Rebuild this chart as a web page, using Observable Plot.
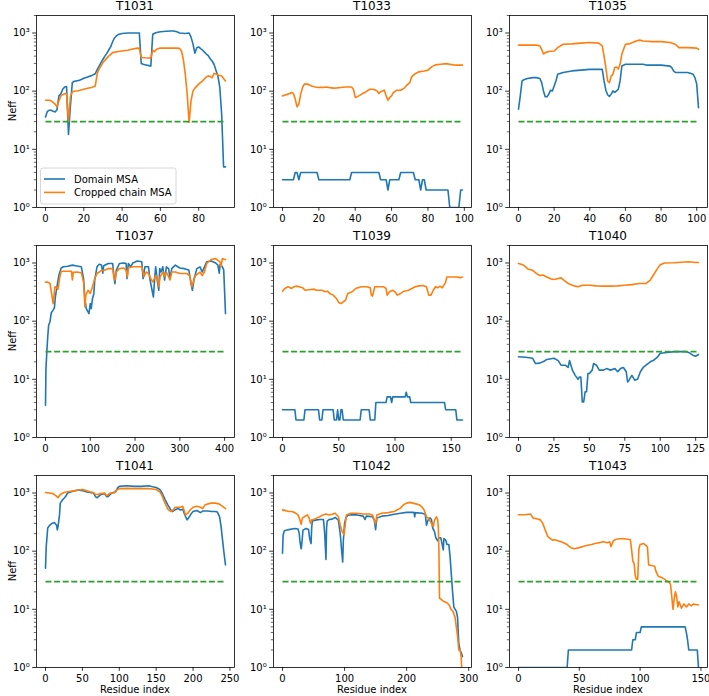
<!DOCTYPE html>
<html><head><meta charset="utf-8">
<script src="https://cdn.jsdelivr.net/npm/d3@7"></script>
<script src="https://cdn.jsdelivr.net/npm/@observablehq/plot@0.6"></script>
<style>
body{margin:0;background:#fff;}
#wrap{position:relative;width:709px;height:696px;overflow:hidden;font-family:"DejaVu Sans",sans-serif;background:#fff;}
#wrap svg{position:absolute;}
</style></head><body><div id="wrap"></div>
<script>
// ---------- data ----------
const panelTitles = ["T1031","T1033","T1035","T1037","T1039","T1040","T1041","T1042","T1043"];
const seriesNames = ["Domain MSA","Cropped chain MSA"];
const neffThreshold = 30;
const yDomain = [1, 2000];
const yTicks = [1, 10, 100, 1000];
const yTickLabels = ["10\u2070","10\u00b9","10\u00b2","10\u00b3"];
const xTickSets = [
  [0,20,40,60,80],[0,20,40,60,80,100],[0,20,40,60,80,100],
  [0,100,200,300,400],[0,50,100,150],[0,25,50,75,100,125],
  [0,50,100,150,200,250],[0,100,200,300],[0,50,100,150]
];

const t1031Domain = [[0,36],[1,45],[2,47],[3,47],[4,45],[5,44],[6,48],[7,83],[8,90],[9,108],[10,118],[11,120],[12,18],[13,55],[14,140],[15,148],[16,150],[17,152],[18,155],[19,160],[20,167],[22,176],[24,185],[26,200],[27,235],[28,270],[29,310],[30,354],[31,400],[32,445],[33,510],[34,575],[35,700],[36,820],[37,890],[38,940],[40,980],[43,1000],[45,1000],[49,1000],[50,300],[51,290],[52,285],[53,280],[54,275],[55,270],[56,950],[57,990],[58,1020],[60,1050],[63,1070],[65,1080],[67,1080],[69,1040],[70,1000],[73,980],[74,990],[75,1000],[76,850],[77,650],[78,450],[79,560],[80,575],[81,540],[82,510],[83,470],[84,435],[85,410],[86,360],[87,330],[88,290],[89,230],[90,183],[91,118],[92,40],[93,5],[94,5]];
const t1031Cropped = [[0,70],[1,70],[2,70],[3,68],[4,64],[5,60],[6,54],[7,68],[8,83],[9,87],[10,90],[11,91],[12,30],[13,80],[14,98],[15,100],[17,102],[19,106],[20,108],[22,112],[24,116],[26,123],[27,200],[28,240],[30,310],[32,370],[33,400],[35,460],[38,480],[40,490],[43,505],[45,525],[48,550],[49,545],[50,380],[52,375],[55,370],[56,510],[57,480],[58,525],[60,550],[63,550],[65,550],[68,550],[70,545],[71,490],[72,350],[73,196],[74,88],[75,29],[76,68],[77,100],[78,113],[79,122],[80,132],[82,150],[84,176],[85,183],[86,180],[87,170],[88,202],[89,198],[90,190],[92,183],[93,165],[94,150]];

const t1033Domain = [[0,3],[6,3],[7,4],[8,4],[9,3],[10,4],[19,4],[20,3],[37,3],[38,4],[53,4],[54,3],[57,3],[58,2],[59,3],[64,3],[65,4],[72,4],[73,3],[75,3],[76,2],[77,3],[78,3],[79,2],[91,2],[92,1],[97,1],[98,2],[99,2]];
const t1033Cropped = [[0,83],[1,85],[2,87],[3,89],[4,91],[5,95],[6,91],[7,73],[8,54],[9,60],[10,89],[11,115],[12,132],[13,133],[14,132],[16,123],[18,118],[20,116],[22,116],[24,118],[26,115],[28,113],[30,114],[32,116],[35,118],[38,118],[39,108],[40,78],[41,80],[42,83],[44,91],[46,98],[48,108],[50,108],[52,101],[53,91],[54,98],[56,104],[57,83],[58,70],[59,78],[60,83],[61,95],[63,104],[65,104],[67,113],[68,123],[70,140],[71,176],[73,200],[75,215],[78,223],[80,230],[82,262],[84,283],[87,290],[90,298],[92,290],[94,283],[96,280],[99,280]];

const t1035Domain = [[0,49],[1,83],[2,150],[3,157],[5,165],[8,171],[10,171],[12,165],[13,140],[14,101],[15,80],[16,80],[17,89],[18,104],[19,101],[20,123],[21,150],[22,195],[25,210],[30,223],[35,230],[40,237],[45,237],[47,237],[48,150],[49,104],[50,87],[51,81],[52,89],[53,101],[54,95],[55,101],[56,108],[57,150],[58,270],[60,290],[65,290],[70,290],[72,280],[80,280],[85,270],[86,255],[87,223],[88,210],[90,210],[95,210],[98,195],[99,171],[100,132],[101,52]];
const t1035Cropped = [[0,620],[5,620],[10,620],[12,600],[13,525],[14,435],[15,460],[17,480],[20,490],[22,560],[25,640],[30,650],[35,670],[40,685],[45,670],[47,600],[48,400],[49,255],[50,150],[51,140],[52,183],[53,195],[54,255],[55,260],[56,240],[57,290],[58,435],[60,640],[62,650],[64,685],[66,730],[68,755],[70,730],[75,710],[80,710],[85,685],[88,640],[90,560],[92,560],[95,560],[100,550],[101,525]];

const t1037Domain = [[0,3.6],[1,15],[3,30],[5,54],[7,85],[10,98],[13,140],[17,155],[20,170],[22,260],[25,365],[30,620],[35,820],[40,860],[50,880],[60,920],[70,890],[80,860],[85,540],[88,245],[91,165],[95,145],[97,135],[100,200],[102,165],[105,245],[108,300],[110,510],[115,860],[120,950],[125,920],[128,670],[130,900],[140,980],[150,980],[153,580],[155,440],[158,745],[165,980],[175,1000],[180,980],[182,540],[185,980],[190,860],[195,1000],[205,1080],[215,1050],[218,540],[222,860],[230,860],[233,540],[238,340],[241,260],[243,440],[246,860],[250,480],[253,340],[255,800],[258,700],[262,860],[266,510],[270,860],[275,800],[278,540],[282,800],[290,920],[300,820],[310,800],[320,760],[325,440],[328,340],[332,540],[338,800],[345,860],[350,700],[355,860],[360,1050],[370,1080],[380,1000],[385,920],[388,670],[390,950],[395,860],[398,760],[400,320],[402,135]];
const t1037Cropped = [[0,470],[5,470],[10,445],[13,320],[17,200],[19,280],[21,390],[25,375],[28,355],[32,575],[35,720],[40,720],[50,720],[58,720],[60,510],[62,690],[70,700],[80,680],[85,470],[88,175],[90,280],[95,340],[100,300],[105,390],[110,540],[115,660],[120,700],[125,745],[130,745],[140,800],[150,800],[153,540],[155,510],[158,700],[165,800],[175,820],[180,745],[183,580],[185,820],[195,860],[205,860],[215,860],[220,580],[225,700],[230,660],[235,540],[240,470],[243,540],[247,610],[250,540],[253,390],[256,580],[262,700],[266,580],[270,700],[278,510],[282,700],[290,700],[300,660],[315,660],[322,610],[327,390],[330,470],[335,610],[345,700],[350,610],[355,700],[360,980],[370,1150],[380,1190],[390,1040],[392,860],[395,1190],[400,1150],[402,1150]];

const t1039Domain = [[0,3],[11,3],[12,2],[19,2],[20,3],[32,3],[33,2],[35,2],[36,3],[45,3],[46,2],[48,2],[49,3],[50,2],[51,2],[52,3],[53,3],[54,2],[69,2],[70,3],[77,3],[78,2],[82,2],[83,4],[92,4],[93,5],[96,5],[97,4],[98,5],[109,5],[110,6],[111,5],[113,5],[114,4],[144,4],[145,3],[154,3],[155,2],[160,2]];
const t1039Cropped = [[0,328],[2,365],[5,390],[8,365],[10,390],[13,400],[18,375],[20,340],[25,350],[28,355],[30,340],[35,340],[38,320],[40,328],[42,300],[45,280],[48,245],[50,210],[52,200],[54,215],[56,230],[58,300],[62,320],[65,365],[70,390],[75,390],[78,375],[79,280],[80,270],[82,390],[85,390],[90,390],[92,365],[93,280],[95,320],[98,340],[100,320],[102,280],[105,300],[108,328],[112,340],[115,365],[118,390],[120,400],[125,410],[128,390],[130,280],[132,280],[134,340],[136,390],[138,375],[140,400],[142,375],[145,470],[146,575],[150,575],[155,575],[158,560],[160,575]];

const t1040Domain = [[0,24.4],[5,24],[10,23],[12,18.7],[15,19],[18,20.5],[20,22],[25,23],[28,21],[30,17.5],[33,17.5],[35,16],[36,21],[37,17.5],[38,14.4],[40,11.7],[42,10],[43,11],[44,11],[45,4.1],[46,4.1],[47,6.1],[48,6.1],[49,12.6],[50,12.6],[52,14.4],[53,18.7],[55,17.5],[57,14.4],[60,14.4],[62,15.3],[65,14.4],[68,15.3],[70,13.5],[72,15.3],[74,16],[76,13.5],[77,9],[78,9.7],[80,11.7],[82,9.7],[84,10],[86,13.5],[88,16],[90,17.5],[93,20],[95,21],[98,24],[100,28],[105,29],[110,30],[115,30],[118,30],[120,29],[123,26],[125,25],[127,26.7]];
const t1040Cropped = [[0,980],[3,935],[5,860],[7,780],[10,750],[13,650],[15,610],[17,620],[20,575],[23,530],[25,520],[28,540],[30,555],[32,510],[35,445],[38,415],[40,400],[42,390],[45,415],[50,415],[55,405],[60,400],[65,400],[70,405],[75,415],[80,425],[85,445],[90,445],[93,510],[95,610],[98,800],[100,935],[103,1000],[110,1010],[120,1050],[125,1020],[127,1020]];

const t1041Domain = [[0,51],[1,120],[3,250],[5,272],[8,295],[12,310],[15,280],[16,232],[17,265],[19,420],[20,670],[23,760],[27,860],[30,1000],[35,1050],[40,1090],[45,1130],[50,1100],[55,1050],[60,1020],[65,1000],[68,860],[70,830],[75,940],[80,975],[83,860],[85,870],[90,1000],[95,1050],[98,1240],[100,1300],[110,1330],[120,1300],[130,1300],[140,1330],[145,1280],[150,1240],[155,1150],[158,1000],[162,780],[166,620],[170,510],[172,480],[175,510],[180,540],[183,510],[186,525],[188,450],[190,390],[192,345],[195,390],[198,450],[200,480],[205,500],[210,460],[213,490],[220,490],[225,480],[230,480],[233,470],[236,390],[238,265],[240,155],[242,92],[244,58]];
const t1041Cropped = [[0,1020],[5,1000],[10,975],[14,900],[17,830],[20,940],[25,1020],[30,1050],[40,1100],[45,1130],[50,1150],[55,1100],[60,1050],[65,1020],[68,940],[70,940],[75,975],[80,1000],[83,900],[88,1000],[93,1000],[95,1100],[98,1150],[100,1190],[110,1200],[120,1190],[130,1190],[140,1190],[145,1170],[150,1150],[155,1050],[158,900],[162,670],[166,525],[170,480],[173,510],[176,570],[180,570],[183,570],[186,590],[190,420],[193,450],[196,510],[200,570],[205,590],[210,570],[213,540],[216,620],[220,650],[225,670],[230,670],[235,650],[240,590],[244,540]];

const t1042Domain = [[0,92],[1,190],[3,225],[10,235],[20,245],[25,240],[27,200],[28,150],[30,110],[31,130],[33,230],[38,245],[42,235],[44,160],[46,135],[47,250],[48,330],[55,345],[60,350],[66,350],[68,200],[69,120],[70,72],[71,250],[72,330],[75,350],[80,355],[85,380],[90,340],[93,200],[95,110],[97,65],[98,150],[100,300],[102,370],[105,415],[110,420],[120,420],[130,400],[133,350],[135,400],[145,390],[148,340],[150,235],[152,370],[160,400],[170,410],[180,430],[190,450],[200,465],[210,465],[212,460],[213,390],[214,460],[225,450],[230,430],[232,280],[234,330],[236,370],[238,370],[240,350],[242,250],[245,215],[247,170],[250,150],[252,170],[255,170],[258,120],[259,105],[260,165],[263,155],[265,130],[268,130],[270,80],[272,40],[274,20],[276,11],[278,10],[280,9.4],[282,7.3],[284,2.6],[286,2],[288,1.8],[290,1.55]];
const t1042Cropped = [[0,515],[1,500],[3,510],[5,495],[10,480],[15,480],[20,460],[25,420],[28,345],[30,290],[32,370],[35,390],[40,420],[43,370],[45,300],[47,345],[50,350],[55,370],[60,390],[65,420],[70,435],[75,420],[80,430],[85,450],[90,390],[93,280],[96,220],[99,190],[101,280],[103,420],[110,450],[120,450],[130,435],[140,435],[145,420],[148,340],[150,295],[152,420],[160,450],[170,460],[180,480],[190,550],[195,630],[200,670],[205,690],[210,670],[215,650],[220,630],[225,570],[228,515],[232,390],[235,370],[238,330],[240,300],[243,265],[245,345],[248,390],[250,345],[251,265],[252,105],[253,15.5],[255,15],[260,13.6],[265,13],[268,12],[270,11],[272,9.8],[274,9.5],[276,8.5],[278,7.3],[280,5],[282,3.5],[284,2],[286,2],[288,1.5],[289,0.8]];

const t1043Domain = [[0,1],[40,1],[41,2],[93,2],[94,3],[96,3],[97,4],[100,4],[101,5],[137,5],[138,4],[139,3],[140,2],[147,2],[148,1]];
const t1043Cropped = [[0,422],[5,422],[10,435],[12,370],[15,360],[18,345],[20,300],[22,230],[24,180],[26,165],[28,155],[30,157],[33,150],[35,145],[37,140],[40,130],[43,115],[46,110],[50,115],[53,120],[56,125],[60,130],[63,135],[66,140],[70,145],[73,140],[75,145],[76,120],[78,150],[80,160],[85,165],[90,160],[92,157],[93,105],[94,67],[95,62],[96,38],[97,33],[98,33],[99,110],[100,130],[103,135],[106,120],[107,58],[110,56],[112,55],[113,45],[115,37],[118,35],[120,33],[123,30],[125,27],[126,16.8],[127,10],[128,15],[129,20],[130,16.8],[131,11],[132,13.5],[134,10.5],[136,12.4],[138,11],[140,12.4],[142,11.5],[144,12.4],[146,12],[148,12]];

const domainSeries = [t1031Domain,t1033Domain,t1035Domain,t1037Domain,t1039Domain,t1040Domain,t1041Domain,t1042Domain,t1043Domain];
const croppedSeries = [t1031Cropped,t1033Cropped,t1035Cropped,t1037Cropped,t1039Cropped,t1040Cropped,t1041Cropped,t1042Cropped,t1043Cropped];

// ---------- layout / style ----------
const colors = {domain:"#1f77b4", cropped:"#ff7f0e", threshold:"#2ca02c"};
const colLeft = [36, 273, 509], rowTop = [15, 245, 475];
const FW = 198, FH = 192;
const ML = 36, MR = 2, MT = 2, MB = 22;
const minorTicks = yTicks.flatMap(d => d3.range(2, 10).map(k => k * d)).filter(v => v <= yDomain[1]);

const wrap = document.getElementById("wrap");

panelTitles.forEach((title, i) => {
  const r = Math.floor(i / 3), c = i % 3;
  const dom = domainSeries[i], crop = croppedSeries[i];
  const all = dom.concat(crop);
  const xmin = d3.min(all, d => d[0]), xmax = d3.max(all, d => d[0]);
  const pad = (xmax - xmin) * 0.05;
  const thr = [[xmin, neffThreshold], [xmax, neffThreshold]];
  const chart = Plot.plot({
    width: ML + FW + MR, height: MT + FH + MB,
    marginLeft: ML, marginRight: MR, marginTop: MT, marginBottom: MB,
    x: {domain: [xmin - pad, xmax + pad], label: null},
    y: {type: "log", domain: yDomain, label: null},
    style: {fontFamily: "DejaVu Sans", fontSize: "10px", color: "black", background: "transparent", overflow: "visible"},
    marks: [
      Plot.line(dom, {x: d => d[0], y: d => d[1], stroke: colors.domain, strokeWidth: 1.6, clip: true, strokeLinejoin: "round"}),
      Plot.line(crop, {x: d => d[0], y: d => d[1], stroke: colors.cropped, strokeWidth: 1.6, clip: true, strokeLinejoin: "round"}),
      Plot.line(thr, {x: d => d[0], y: d => d[1], stroke: colors.threshold, strokeWidth: 1.6, strokeDasharray: "6,2.6", strokeLinecap: "butt"}),
      Plot.frame({stroke: "black", strokeWidth: 0.8}),
      Plot.axisX(xTickSets[i], {tickSize: 3.8, tickPadding: 3.6, strokeWidth: 0.8, label: null, tickFormat: d => String(d)}),
      Plot.axisY(yTicks, {tickSize: 3.8, tickPadding: 3, strokeWidth: 0.8, label: null, tickFormat: d => yTickLabels[yTicks.indexOf(d)]}),
      Plot.axisY(minorTicks, {tickSize: 2.2, strokeWidth: 0.6, label: null, tickFormat: () => ""})
    ]
  });
  chart.style.left = (colLeft[c] - ML) + "px";
  chart.style.top = (rowTop[r] - MT) + "px";
  wrap.appendChild(chart);
});

// overlay: titles, axis labels, legend
const ov = d3.select(wrap).append("svg").attr("width", 709).attr("height", 696)
  .style("left", "0px").style("top", "0px").style("pointer-events", "none")
  .attr("font-family", "DejaVu Sans");
panelTitles.forEach((title, i) => {
  const r = Math.floor(i / 3), c = i % 3;
  ov.append("text").attr("x", colLeft[c] + FW / 2).attr("y", rowTop[r] - 4.8)
    .attr("text-anchor", "middle").attr("font-size", 12).attr("fill", "black").text(title);
});
rowTop.forEach(t => {
  ov.append("text").attr("transform", `translate(15.5,${t + FH / 2}) rotate(-90)`)
    .attr("text-anchor", "middle").attr("font-size", 10).attr("fill", "black").text("Neff");
});
colLeft.forEach(l => {
  ov.append("text").attr("x", l + FW / 2).attr("y", 693)
    .attr("text-anchor", "middle").attr("font-size", 10).attr("fill", "black").text("Residue index");
});
const lg = ov.append("g");
lg.append("rect").attr("x", 40.5).attr("y", 168).attr("width", 135.5).attr("height", 36).attr("rx", 2.5)
  .attr("fill", "white").attr("fill-opacity", 0.8).attr("stroke", "#cccccc").attr("stroke-width", 0.8);
[[seriesNames[0], colors.domain, 179], [seriesNames[1], colors.cropped, 192.4]].forEach(([name, col, y]) => {
  lg.append("line").attr("x1", 44).attr("x2", 65).attr("y1", y).attr("y2", y).attr("stroke", col).attr("stroke-width", 1.6);
  lg.append("text").attr("x", 74).attr("y", y + 3.6).attr("font-size", 10).attr("fill", "black").text(name);
});
</script></body></html>
